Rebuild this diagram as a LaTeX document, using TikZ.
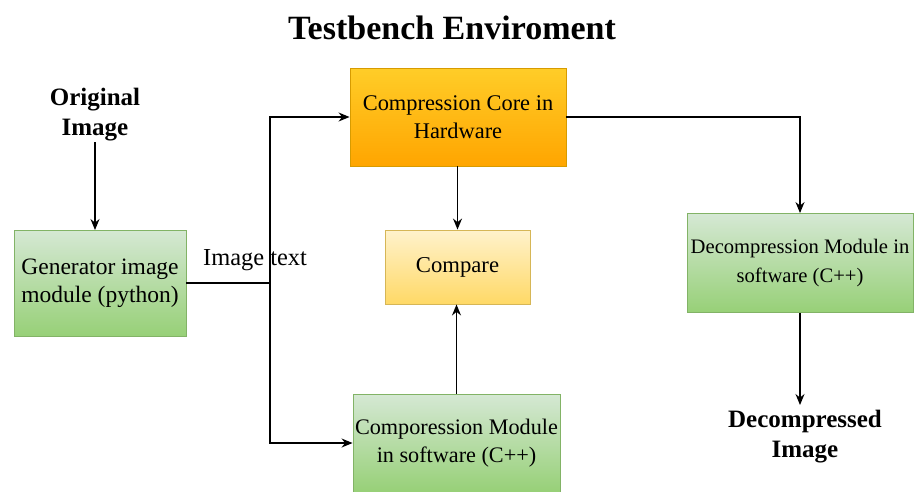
\documentclass[tikz,border=0pt]{standalone}
\usepackage{fontspec}
\setmainfont{Liberation Serif}
\usetikzlibrary{arrows.meta,positioning}
\definecolor{greenTop}{HTML}{D5E8D4}
\definecolor{greenBot}{HTML}{97D077}
\definecolor{greenLine}{HTML}{82B366}
\definecolor{orangeTop}{HTML}{FFCD28}
\definecolor{orangeBot}{HTML}{FFA500}
\definecolor{orangeLine}{HTML}{D79B00}
\definecolor{yellowTop}{HTML}{FFF2CC}
\definecolor{yellowBot}{HTML}{FFD966}
\definecolor{yellowLine}{HTML}{D6B656}
\tikzset{
  box/.style={draw, line width=0.9pt, rectangle, align=center, inner sep=0pt,
    font=\fontsize{23.5}{28}\selectfont},
  greenbox/.style={box, draw=greenLine, top color=greenTop, bottom color=greenBot},
  orangebox/.style={box, draw=orangeLine, top color=orangeTop, bottom color=orangeBot},
  yellowbox/.style={box, draw=yellowLine, top color=yellowTop, bottom color=yellowBot},
  lbl/.style={align=center, inner sep=0pt, font=\bfseries\fontsize{25}{30}\selectfont},
  conn/.style={line width=1.3pt, -{Stealth[length=11pt,width=9pt]}},
  plain/.style={line width=1.3pt}
}
\begin{document}
\begin{tikzpicture}[x=1pt,y=-1pt]
\useasboundingbox (0,0) rectangle (917,491);

% title
\node[font=\bfseries\fontsize{34}{40}\selectfont, inner sep=0pt] (title) at (452,28) {Testbench Enviroment};

% blocks
\node[greenbox, minimum width=172pt, minimum height=106pt] (gen) at (100,283)
  {Generator image\\module (python)};
\node[orangebox, minimum width=216pt, minimum height=98pt,
  font=\fontsize{22.4}{28}\selectfont] (core) at (458,117)
  {Compression Core in\\Hardware};
\node[yellowbox, minimum width=145pt, minimum height=74pt,
  font=\fontsize{22.7}{28}\selectfont] (cmp) at (457.5,267)
  {Compare};
\node[greenbox, minimum width=207pt, minimum height=98pt,
  font=\fontsize{22.2}{28}\selectfont] (sw) at (456.5,443)
  {Comporession Module\\in software (C++)};
\node[greenbox, minimum width=226pt, minimum height=99pt,
  font=\fontsize{20.6}{29}\selectfont] (dec) at (800,263)
  {Decompression Module in\\software (C++)};

% terminal labels
\node[lbl] (orig) at (95,115) {Original\\Image};
\node[lbl] (decimg) at (805,437) {Decompressed\\Image};

% branch point on the image path
\coordinate (split) at (270,283);
\node[inner sep=0pt, font=\fontsize{24.4}{28}\selectfont] (imtxt) at (255,260) {Image text};

% connectors
\draw[conn] (95,142) -- (95,230);
\draw[plain] (gen.east) -- (split);
\draw[conn] (split) |- (core.west);
\draw[conn] (split) |- (sw.west);
\draw[conn] (core.south -| cmp.north) -- (cmp.north);
\draw[conn] (sw.north) -- (sw.north |- cmp.south);
\draw[conn] (core.east) -| (dec.north);
\draw[conn] (dec.south) -- (800,405);
\end{tikzpicture}
\end{document}
